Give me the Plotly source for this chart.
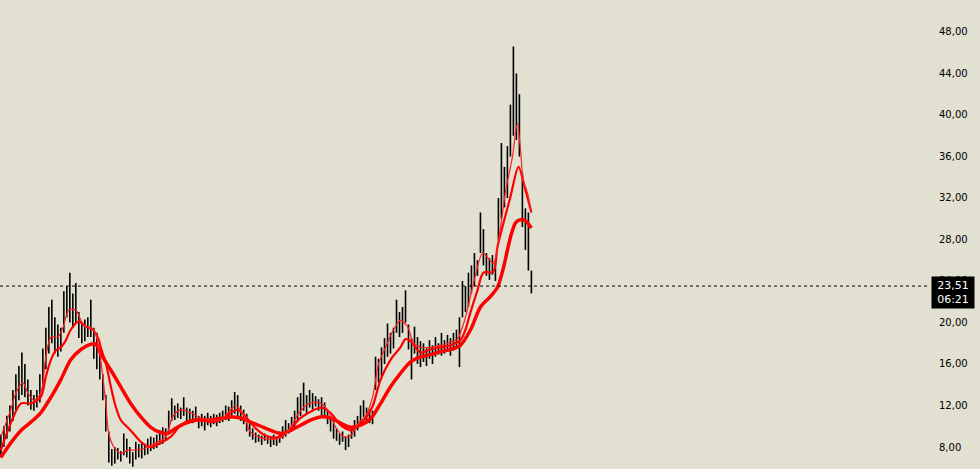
import plotly.graph_objects as go

# barras (mínimo / máximo), una por sesión
lows = [7.0, 8.0, 8.8, 9.5, 10.5, 11.5, 12.5, 13.0, 12.8, 12.0,
        11.6, 11.5, 11.8, 12.3, 13.5, 15.5, 17.0, 18.0, 17.0, 16.7,
        17.2, 19.0, 20.5, 20.0, 19.5, 20.0, 18.5, 18.0, 18.2, 18.6,
        18.6, 16.5, 15.5, 14.5, 12.5, 9.5, 6.5, 6.2, 6.4, 6.8,
        6.6, 7.2, 7.0, 6.4, 6.1, 6.8, 7.0, 6.9, 7.2, 7.3,
        7.6, 7.8, 7.9, 8.2, 8.3, 8.6, 9.3, 10.5, 10.6, 10.8,
        10.7, 11.0, 10.4, 10.5, 10.3, 10.5, 9.8, 10.0, 9.6, 10.1,
        9.9, 10.2, 10.0, 10.3, 10.4, 10.6, 10.5, 11.0, 11.2, 10.9,
        10.5, 10.2, 9.5, 9.0, 8.7, 8.4, 8.5, 8.2, 8.6, 8.3,
        8.0, 8.2, 8.1, 8.4, 8.8, 9.0, 9.3, 9.5, 9.8, 10.5,
        11.0, 11.5, 11.2, 11.8, 11.6, 11.9, 11.5, 11.0, 10.8, 10.2,
        9.5, 8.8, 8.6, 8.2, 8.5, 7.7, 8.0, 8.8, 9.0, 9.6,
        10.2, 10.9, 10.5, 10.3, 10.2, 13.5, 14.2, 14.8, 16.0, 16.7,
        17.0, 17.5, 19.0, 18.6, 19.0, 20.0, 17.4, 14.5, 17.0, 16.0,
        15.7, 16.2, 15.8, 16.5, 16.0, 16.7, 16.9, 16.8, 17.0, 17.2,
        16.8, 17.3, 17.5, 15.7, 20.5, 21.0, 21.5, 22.8, 23.5, 24.5,
        26.7, 25.5, 24.5, 24.1, 24.6, 24.0, 27.9, 30.0, 31.1, 32.0,
        36.0, 38.0, 37.6, 36.0, 29.2, 27.0, 25.0, 22.8]
highs = [9.2, 10.0, 11.0, 12.0, 13.5, 15.0, 15.8, 17.1, 16.0, 14.5,
         13.5, 13.0, 13.5, 15.0, 17.5, 19.5, 21.5, 22.2, 20.5, 19.8,
         19.5, 23.0, 23.5, 24.8, 22.8, 23.8, 21.0, 20.0, 20.3, 20.5,
         22.2, 19.5, 19.0, 17.5, 15.0, 13.0, 9.5, 7.8, 8.0, 7.9,
         7.6, 9.3, 8.8, 8.0, 7.5, 8.5, 8.3, 8.4, 8.2, 8.8,
         9.0, 8.9, 9.2, 9.6, 9.9, 9.8, 11.5, 12.7, 12.0, 12.2,
         11.8, 12.8, 11.8, 11.7, 11.5, 11.9, 11.0, 11.2, 11.0, 11.3,
         11.0, 11.2, 11.1, 11.3, 11.5, 12.0, 11.9, 12.5, 13.3, 13.0,
         12.0, 11.6, 11.2, 10.5, 9.8, 9.4, 9.2, 9.1, 9.3, 9.0,
         8.9, 9.2, 9.0, 9.5, 10.0, 10.6, 10.3, 10.9, 11.5, 12.8,
         13.2, 14.2, 13.0, 13.5, 13.2, 12.9, 12.6, 12.8, 12.3, 11.5,
         11.0, 10.5, 9.8, 9.3, 9.5, 9.0, 9.2, 10.0, 10.6, 11.0,
         12.0, 12.5, 11.8, 11.6, 11.5, 16.7, 16.5, 17.6, 18.5, 19.9,
         19.0, 19.5, 22.2, 21.0, 21.5, 23.1, 19.8, 18.5, 19.6, 18.6,
         18.2, 18.0, 17.5, 18.3, 17.8, 18.6, 18.0, 19.0, 18.3, 18.8,
         18.5, 19.0, 19.3, 20.5, 24.0, 23.5, 24.8, 25.5, 26.7, 26.0,
         30.6, 29.0, 26.7, 26.2, 26.5, 25.8, 32.0, 37.3, 35.0, 37.0,
         41.0, 46.6, 44.0, 42.0, 34.4, 31.0, 30.6, 25.0]

# medias móviles (posición en número de barra, valor)
ma_fast_x = [0, 3.3, 5, 7.3, 9, 11, 13.3, 15, 16.7, 19, 20.7, 22.7, 25, 26.7,
             28.3, 30.7, 32, 33.3, 35, 36, 37.7, 40, 42.3, 45, 48.3, 51.7, 55,
             57.3, 60, 63.3, 66.7, 70, 73.3, 76.7, 78.3, 81, 83.3, 86.7, 90,
             93.3, 96, 99, 101.7, 104, 106.7, 109, 111.7, 114.3, 116.7, 119.3,
             121.7, 124, 126, 128.3, 131, 133.3, 135.7, 137.7, 140, 143.3,
             146.7, 150, 152.3, 155, 157.7, 160.7, 162.3, 164.3, 166.7, 168.3,
             170.7, 172.3, 173.3, 174.3, 175.7, 177]
ma_fast = [9.0, 11.6, 13.2, 14.2, 13.2, 12.5, 13.2, 16.7, 18.6, 18.6, 19.5,
           21.2, 21.2, 20.2, 19.6, 19.4, 18.5, 16.4, 12.2, 9.3, 8.0, 7.4, 7.7,
           7.7, 7.9, 8.4, 9.0, 10.9, 11.6, 11.3, 10.8, 10.6, 10.6, 11.6, 12.0,
           11.1, 9.4, 8.9, 8.7, 8.9, 9.6, 11.1, 12.0, 12.3, 12.2, 11.6, 9.9,
           9.0, 9.1, 10.3, 11.0, 12.8, 16.0, 17.6, 19.3, 20.2, 19.6, 18.0,
           17.6, 17.6, 17.8, 18.1, 18.4, 20.5, 23.8, 26.7, 26.3, 25.7, 29.2,
           32.5, 36.0, 39.2, 36.9, 33.7, 32.5, 30.6]

ma_mid_x = [0, 3.3, 6.7, 10, 13.3, 15, 16.7, 18.3, 20, 21.7, 23.3, 26, 28.3,
            30.7, 32.7, 33.3, 35, 36.7, 38.3, 40, 43.3, 46.7, 50, 53.3, 56.7,
            60, 63.3, 66.7, 70, 73.3, 76.7, 79, 81.7, 85, 88.3, 91.7, 94.3,
            96.7, 100, 103.3, 106.7, 110, 113.3, 116.7, 118.3, 121.7, 124,
            126.7, 130, 133.3, 135, 136.7, 140, 143.3, 146.7, 150, 153.3, 155,
            156.7, 159, 161, 164.3, 165.7, 170, 172.7, 175, 177]
ma_mid = [7.7, 10.3, 12.2, 12.2, 12.8, 14.8, 16.4, 17.3, 17.6, 18.3, 19.3,
          20.1, 19.6, 19.3, 18.3, 17.6, 16.1, 13.8, 11.9, 10.6, 9.6, 8.5, 8.0,
          8.4, 9.0, 10.1, 10.6, 10.6, 10.4, 10.6, 11.3, 11.6, 10.9, 9.8, 9.1,
          8.9, 9.2, 9.8, 10.8, 11.4, 11.8, 11.3, 10.1, 9.6, 9.8, 10.8, 11.9,
          14.5, 16.4, 17.6, 18.4, 18.2, 17.1, 17.4, 17.6, 17.8, 18.3, 19.3,
          21.0, 23.1, 24.8, 24.9, 27.3, 32.1, 35.0, 32.8, 30.6]

ma_slow_x = [0, 3.3, 6.7, 10, 13.3, 16.7, 20, 23.3, 26.7, 30, 31.7, 33.3,
             36.7, 40, 43.3, 46.7, 50, 53.3, 55.7, 58.3, 61.7, 65.7, 70, 76.7,
             80, 83.3, 86.7, 90, 93.3, 96.7, 100, 103.3, 106.7, 110, 113.3,
             116.7, 120, 123.3, 126.7, 130, 133.3, 136.7, 140, 143.3, 146.7,
             150, 153.3, 156.7, 160, 163.3, 165.7, 167.7, 170, 171.7, 173.3,
             175, 177]
ma_slow = [7.0, 8.4, 9.6, 10.4, 11.3, 12.8, 14.5, 16.4, 17.4, 17.9, 17.9,
           17.0, 15.4, 13.8, 12.2, 10.9, 9.9, 9.4, 9.3, 9.8, 10.3, 10.6, 10.6,
           10.9, 10.8, 10.4, 10.0, 9.6, 9.3, 9.6, 10.1, 10.6, 10.9, 10.8, 10.3,
           9.9, 10.1, 10.7, 12.2, 13.8, 15.1, 16.2, 16.7, 16.9, 17.2, 17.4,
           17.8, 19.3, 21.5, 22.5, 23.4, 25.3, 28.2, 29.6, 29.9, 29.8, 29.1]

precio = 23.51
hora = "06:21"
ticks_y = [8, 12, 16, 20, 24, 28, 32, 36, 40, 44, 48]
etiquetas_y = ["8,00", "12,00", "16,00", "20,00", "24,00", "28,00",
               "32,00", "36,00", "40,00", "44,00", "48,00"]

fondo = "rgb(225,224,209)"

# segmentos verticales máximo-mínimo
bx, by = [], []
for i, (lo, hi) in enumerate(zip(lows, highs)):
    bx += [i, i, None]
    by += [lo, hi, None]

fig = go.Figure()
fig.add_trace(go.Scatter(x=bx, y=by, mode="lines",
                         line=dict(color="black", width=1.6),
                         hoverinfo="skip"))
fig.add_trace(go.Scatter(x=ma_slow_x, y=ma_slow, mode="lines",
                         line=dict(color="#ff0000", width=3.5, shape="spline", smoothing=0.8)))
fig.add_trace(go.Scatter(x=ma_mid_x, y=ma_mid, mode="lines",
                         line=dict(color="#ff0000", width=2.2, shape="spline", smoothing=0.8)))
fig.add_trace(go.Scatter(x=ma_fast_x, y=ma_fast, mode="lines",
                         line=dict(color="#ff2020", width=1.2, shape="spline", smoothing=0.8)))

# línea punteada del precio actual
fig.add_shape(type="line", xref="paper", x0=0, x1=1, y0=precio, y1=precio,
              line=dict(color="black", width=1, dash="dot"))

fig.add_annotation(xref="paper", x=1, y=precio, xanchor="left", yanchor="top",
                   yshift=10, xshift=1,
                   text=f"{precio:.2f}".replace(".", ",") + "<br>" + hora,
                   showarrow=False, align="center", bgcolor="black",
                   font=dict(color="white", size=11, family="DejaVu Sans"),
                   borderpad=2, width=38)

fig.update_layout(
    width=980, height=469,
    margin=dict(l=0, r=50, t=0, b=0),
    paper_bgcolor=fondo, plot_bgcolor=fondo,
    showlegend=False,
    font=dict(family="DejaVu Sans", size=10, color="black"),
    xaxis=dict(visible=False, range=[-0.3, 310]),
    yaxis=dict(side="right", range=[5.88, 51.08], showgrid=False,
               zeroline=False, tickvals=ticks_y, ticktext=etiquetas_y,
               ticks="", ticklabelstandoff=8),
)

fig.write_html("out.html", config={"displayModeBar": False},
               post_script="document.body.style.margin='0';"
                           "document.body.style.overflow='hidden';")
